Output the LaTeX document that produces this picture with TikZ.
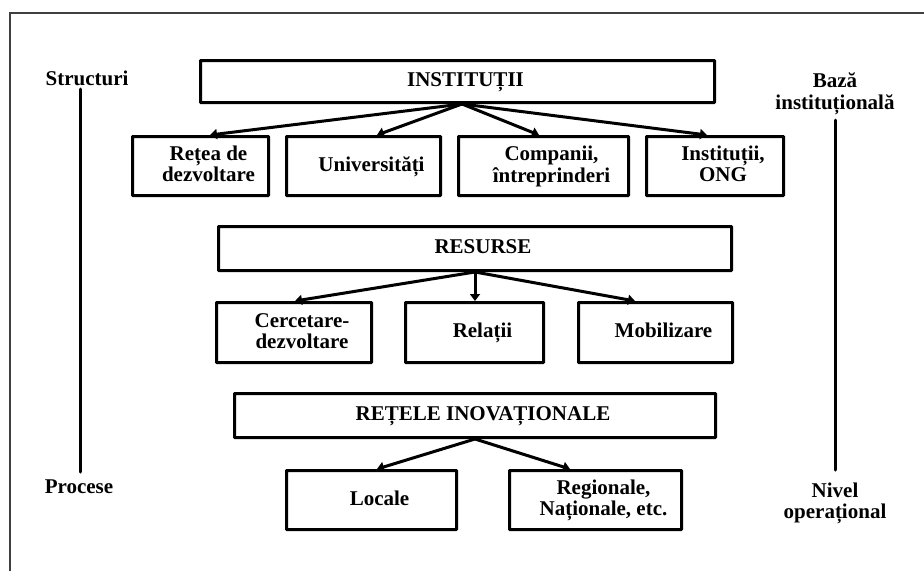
\documentclass[tikz,border=0pt]{standalone}
\usepackage{fontspec}
\setmainfont{Liberation Serif}
\usetikzlibrary{arrows.meta}
\begin{document}
\begin{tikzpicture}[x=1pt,y=-1pt,
  box/.style={draw=black, line width=3pt, inner sep=0pt, rounded corners=0.6pt},
  lbl/.style={font=\bfseries\fontsize{21}{21}\selectfont, align=center, inner sep=0pt},
  arr/.style={line width=3pt, -{Triangle[length=7pt,width=10pt]}},
  vline/.style={line width=3pt, line cap=round},
  frame/.style={draw=black!75, line width=1.2pt}]
\useasboundingbox (0,0) rectangle (924,571);
% frame
\draw[frame] (10,571) -- (10,13) -- (924,13);
% side labels
\node[lbl] (struct) at (87,81) {\strut Structuri};
\node[lbl] (proc) at (79,489.5) {\strut Procese};
\coordinate (s1) at (80,89);
\coordinate (s2) at (80,472);
\draw[vline] (s1) -- (s2);
\node[lbl] (baza) at (835,94) {\strut Bază\\\strut instituțională};
\node[lbl] (nivel) at (835,504) {\strut Nivel\\\strut operațional};
\coordinate (b1) at (835,120);
\coordinate (b2) at (835,470);
\draw[vline] (b1) -- (b2);
% level 1
\node[box, minimum width=514, minimum height=42] (inst) at (457.5,81.5) {};
\node[lbl] at ([xshift=8,yshift=-1]inst.center) {\strut INSTITUȚII};
\node[box, minimum width=136, minimum height=59] (retea) at (200.5,166) {};
\node[lbl] at ([xshift=8,yshift=-1]retea.center) {\strut Rețea de\\\strut dezvoltare};
\node[box, minimum width=154, minimum height=59] (univ) at (363.5,166) {};
\node[lbl] at ([xshift=8,yshift=-1]univ.center) {\strut Universități};
\node[box, minimum width=170, minimum height=59] (comp) at (543.5,166) {};
\node[lbl] at ([xshift=8,yshift=-1]comp.center) {\strut Companii,\\\strut întreprinderi};
\node[box, minimum width=137, minimum height=59] (ong) at (715,166) {};
\node[lbl] at ([xshift=8,yshift=-1]ong.center) {\strut Instituții,\\\strut ONG};
\coordinate (o1) at (462,104);
\draw[arr] (o1) -- ([xshift=9.5]retea.north);
\draw[arr] (o1) -- ([xshift=13.5]univ.north);
\draw[arr] (o1) -- ([xshift=-4.5]comp.north);
\draw[arr] (o1) -- ([xshift=-8]ong.north);
% level 2
\node[box, minimum width=513, minimum height=44] (res) at (475,248.5) {};
\node[lbl] at ([xshift=8,yshift=-1]res.center) {\strut RESURSE};
\node[box, minimum width=155, minimum height=60] (cerc) at (294,332.5) {};
\node[lbl] at ([xshift=8,yshift=-1]cerc.center) {\strut Cercetare-\\\strut dezvoltare};
\node[box, minimum width=138, minimum height=60] (rel) at (474.5,332.5) {};
\node[lbl] at ([xshift=8,yshift=-1]rel.center) {\strut Relații};
\node[box, minimum width=154, minimum height=60] (mob) at (655.5,332.5) {};
\node[lbl] at ([xshift=8,yshift=-1]mob.center) {\strut Mobilizare};
\coordinate (o2) at (475,272);
\draw[arr] (o2) -- ([xshift=1]cerc.north);
\draw[arr] (o2) -- ([xshift=0.5]rel.north);
\draw[arr] (o2) -- ([xshift=-20.5]mob.north);
% level 3
\node[box, minimum width=481, minimum height=44] (ret) at (475,415.5) {};
\node[lbl] at ([xshift=8,yshift=-1]ret.center) {\strut REȚELE INOVAȚIONALE};
\node[box, minimum width=170, minimum height=59] (loc) at (371.5,500) {};
\node[lbl] at ([xshift=8,yshift=-1]loc.center) {\strut Locale};
\node[box, minimum width=172, minimum height=59] (reg) at (595.5,500) {};
\node[lbl] at ([xshift=8,yshift=-1]reg.center) {\strut Regionale,\\\strut Naționale, etc.};
\coordinate (o3) at (475,439);
\draw[arr] (o3) -- ([xshift=5.5]loc.north);
\draw[arr] (o3) -- ([xshift=-25.5]reg.north);
\end{tikzpicture}
\end{document}
